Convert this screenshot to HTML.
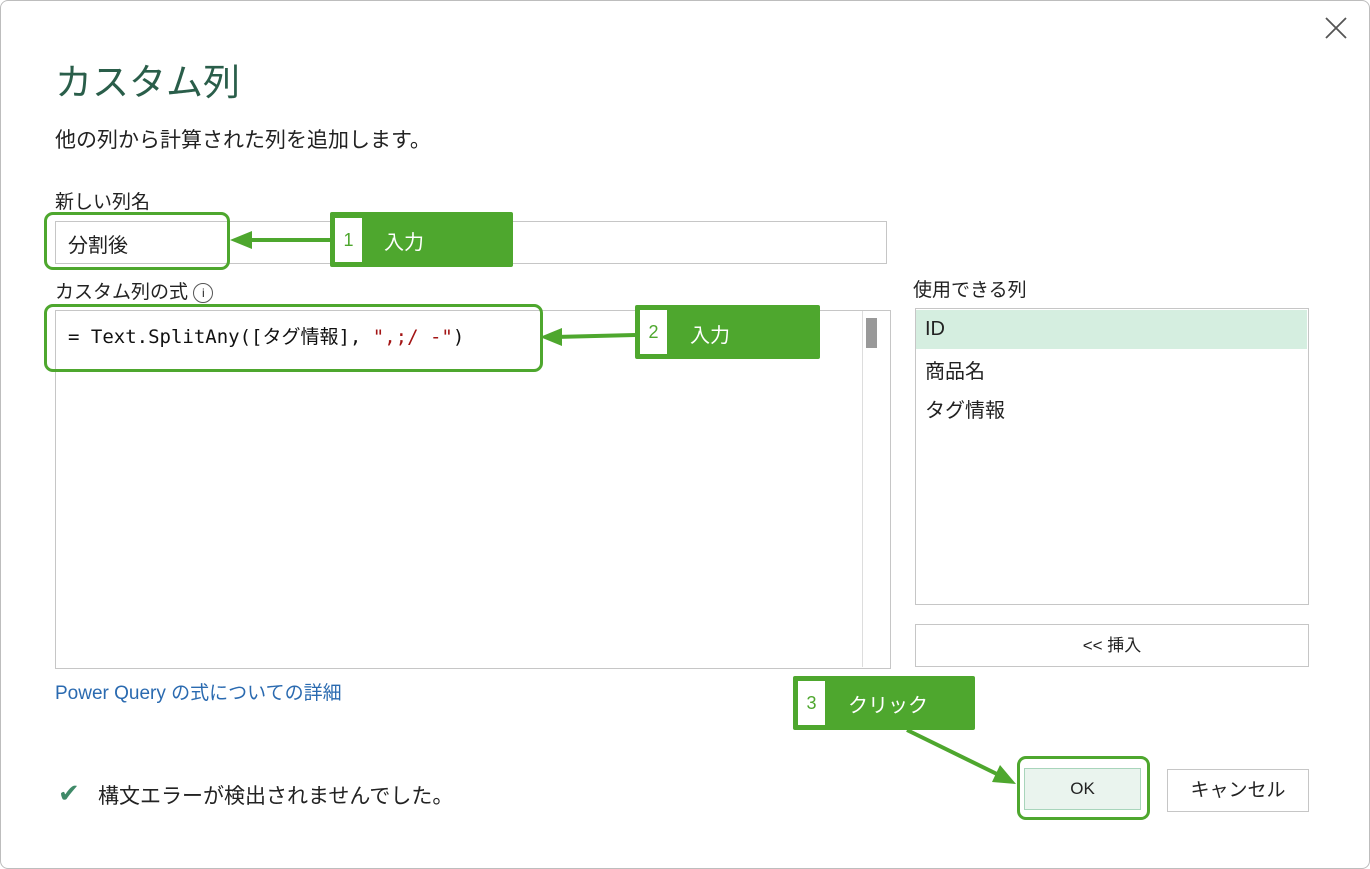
<!DOCTYPE html>
<html><head><meta charset="utf-8"><style>
body{margin:0;width:1370px;height:869px;background:#fff;position:relative;overflow:hidden;font-family:"Liberation Sans","Noto Sans CJK JP",sans-serif;color:#222}
.a{position:absolute}
.frame{left:0;top:0;width:1368px;height:867px;border:1px solid #bdbdbd;border-radius:8px}
.t{font-size:20px;white-space:nowrap}
.box{border:1px solid #c6c6c6;background:#fff}
.hl{border:3px solid #4ea72e;border-radius:9px}
.call{background:#4ea72e;color:#fff;font-size:20px;border-radius:2px}
.num{background:#fff;color:#4ea72e;font-size:18px;text-align:center}
</style></head><body>
<div class="a frame"></div>
<svg class="a" style="left:1325px;top:17px" width="22" height="22"><path d="M1 1L21 21M21 1L1 21" stroke="#555" stroke-width="1.8"/></svg>
<div class="a t" style="left:55px;top:52px;font-size:37px;color:#2a5e4a">カスタム列</div>
<div class="a t" style="left:55px;top:124px;font-size:21px">他の列から計算された列を追加します。</div>
<div class="a t" style="left:55px;top:187px;font-size:19px">新しい列名</div>
<div class="a box" style="left:55px;top:221px;width:830px;height:41px"></div>
<div class="a t" style="left:68px;top:229px">分割後</div>
<div class="a hl" style="left:44px;top:212px;width:180px;height:52px"></div>
<div class="a t" style="left:55px;top:277px;font-size:19px">カスタム列の式 <span style="display:inline-block;width:18px;height:18px;border:1px solid #555;border-radius:50%;font-size:12px;text-align:center;line-height:18px;vertical-align:middle">i</span></div>
<div class="a box" style="left:55px;top:310px;width:834px;height:357px"></div>
<div class="a" style="left:862px;top:311px;width:1px;height:356px;background:#ddd"></div>
<div class="a" style="left:866px;top:318px;width:11px;height:30px;background:#999"></div>
<div class="a t" style="left:68px;top:322px;font-family:'DejaVu Sans Mono','Noto Sans CJK JP',monospace;font-size:19px;color:#111">= Text.SplitAny(<span>[タグ情報], </span><span style="color:#a31515">",;/ -"</span>)</div>
<div class="a hl" style="left:44px;top:304px;width:493px;height:62px"></div>
<div class="a t" style="left:913px;top:275px;font-size:19px">使用できる列</div>
<div class="a box" style="left:915px;top:308px;width:392px;height:295px"></div>
<div class="a" style="left:916px;top:310px;width:391px;height:39px;background:#d5eee0"></div>
<div class="a t" style="left:925px;top:318px">ID</div>
<div class="a t" style="left:925px;top:355px">商品名</div>
<div class="a t" style="left:925px;top:394px">タグ情報</div>
<div class="a box" style="left:915px;top:624px;width:392px;height:41px;text-align:center;line-height:41px;font-size:17px">&lt;&lt; 挿入</div>
<div class="a t" style="left:55px;top:678px;font-size:19px;color:#2a6ab0">Power Query の式についての詳細</div>
<div class="a" style="left:58px;top:778px;font-size:26px;color:#3f8a68;line-height:30px">✔</div>
<div class="a t" style="left:98px;top:780px;font-size:21px">構文エラーが検出されませんでした。</div>
<div class="a" style="left:1024px;top:768px;width:115px;height:40px;background:#eaf4ee;border:1px solid #a8d5bb;text-align:center;line-height:40px;font-size:17px">OK</div>
<div class="a hl" style="left:1017px;top:756px;width:127px;height:58px"></div>
<div class="a box" style="left:1167px;top:769px;width:140px;height:41px;text-align:center;line-height:41px;font-size:19px">キャンセル</div>
<div class="a call" style="left:330px;top:212px;width:183px;height:55px"></div>
<div class="a num" style="left:335px;top:218px;width:27px;height:44px;line-height:44px">1</div>
<div class="a t" style="left:384px;top:226px;color:#fff">入力</div>
<div class="a call" style="left:635px;top:305px;width:185px;height:54px"></div>
<div class="a num" style="left:640px;top:310px;width:27px;height:44px;line-height:44px">2</div>
<div class="a t" style="left:690px;top:319px;color:#fff">入力</div>
<div class="a call" style="left:793px;top:676px;width:182px;height:54px"></div>
<div class="a num" style="left:798px;top:681px;width:27px;height:44px;line-height:44px">3</div>
<div class="a t" style="left:848px;top:689px;color:#fff">クリック</div>
<svg class="a" style="left:0;top:0" width="1370" height="869">
<g stroke="#4ea72e" stroke-width="4" fill="#4ea72e">
<line x1="330" y1="240" x2="245" y2="240"/>
<polygon points="230,240 252,231 252,249" stroke="none"/>
<line x1="635" y1="335" x2="555" y2="337"/>
<polygon points="540,337 562,328 562,346" stroke="none"/>
<line x1="907" y1="730" x2="1003" y2="777"/>
<polygon points="1016,784 992,782 1000,765" stroke="none"/>
</g></svg>
</body></html>
